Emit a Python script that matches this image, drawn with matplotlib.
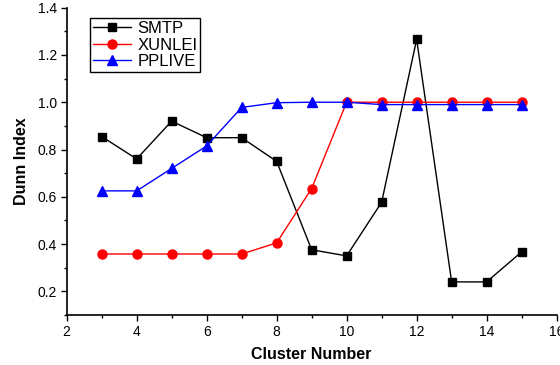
import matplotlib
matplotlib.use("Agg")
import matplotlib.pyplot as plt
from matplotlib.ticker import MultipleLocator

plt.rcParams['font.family'] = ['Liberation Sans', 'DejaVu Sans']

clusters = [3, 4, 5, 6, 7, 8, 9, 10, 11, 12, 13, 14, 15]
smtp = [0.855, 0.76, 0.92, 0.85, 0.85, 0.75, 0.376, 0.35, 0.577, 1.266, 0.24, 0.24, 0.367]
xunlei = [0.358, 0.358, 0.358, 0.358, 0.358, 0.405, 0.635, 1.0, 1.0, 1.0, 1.0, 1.0, 1.0]
pplive = [0.625, 0.625, 0.72, 0.815, 0.978, 0.998, 1.0, 1.0, 0.99, 0.99, 0.99, 0.99, 0.99]

fig = plt.figure(figsize=(5.6, 3.65), dpi=100)
ax = fig.add_axes([0.119, 0.137, 0.875, 0.842])

ax.plot(clusters, smtp, color="black", marker="s", markersize=6, linewidth=1, label="SMTP")
ax.plot(clusters, xunlei, color="red", marker="o", markersize=6.5, linewidth=1, label="XUNLEI")
ax.plot(clusters, pplive, color="blue", marker="^", markersize=7, linewidth=1, label="PPLIVE")

ax.set_xlim(2, 16)
ax.set_ylim(0.1, 1.4)
ax.xaxis.set_major_locator(MultipleLocator(2))
ax.xaxis.set_minor_locator(MultipleLocator(1))
ax.yaxis.set_minor_locator(MultipleLocator(0.1))
ax.set_yticks([0.2, 0.4, 0.6, 0.8, 1.0, 1.2, 1.4])
ax.tick_params(which="major", direction="out", length=4, width=1, labelsize=10, pad=3)
ax.tick_params(which="minor", direction="out", length=2.5, width=1)

ax.spines["top"].set_visible(False)
ax.spines["right"].set_visible(False)
ax.spines["left"].set_linewidth(1.2)
ax.spines["bottom"].set_linewidth(1.2)

ax.set_xlabel("Cluster Number", fontsize=11.5, fontweight="bold", labelpad=6)
ax.set_ylabel("Dunn Index", fontsize=11.5, fontweight="bold", labelpad=6)

leg = ax.legend(loc="upper left", bbox_to_anchor=(0.048, 0.965), fontsize=12,
                fancybox=False, edgecolor="black", framealpha=1,
                handlelength=2.3, borderpad=0.15, labelspacing=0.1, handletextpad=0.4,
                borderaxespad=0)
leg.get_frame().set_linewidth(1)

fig.savefig("out.png", dpi=100)
